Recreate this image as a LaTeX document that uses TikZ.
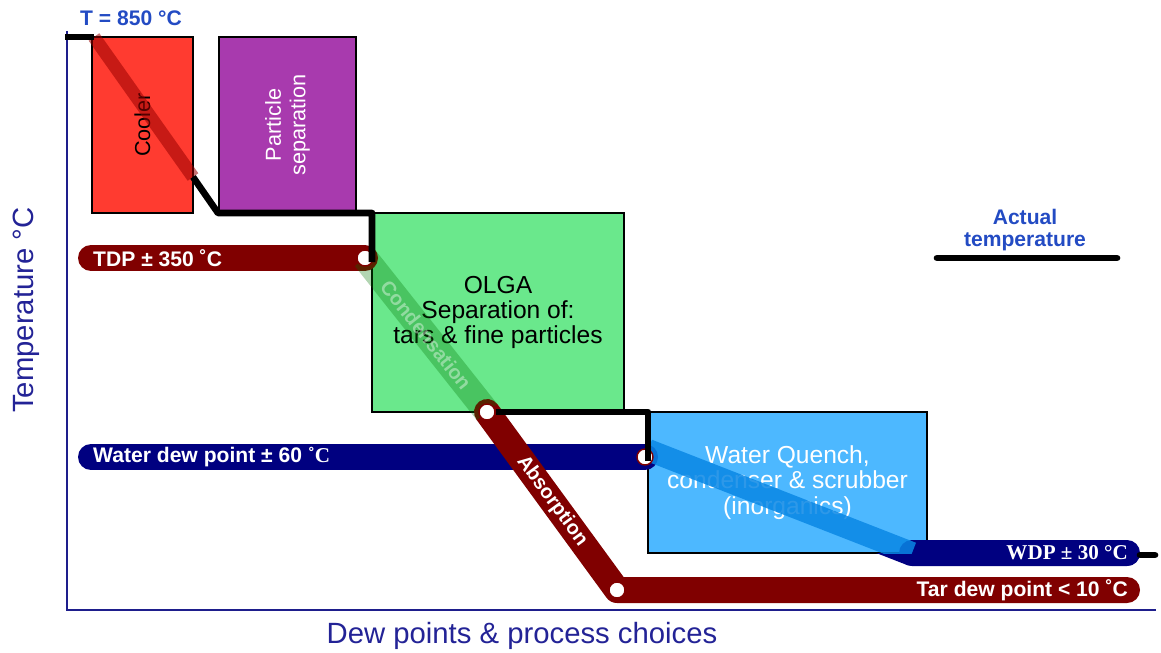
\documentclass[tikz,border=0pt]{standalone}
\usepackage{fontspec}
\setmainfont{Liberation Sans}
\newfontfamily\timesfont{Liberation Serif}
\usetikzlibrary{positioning}
\definecolor{axisblue}{RGB}{30,30,140}
\definecolor{labelblue}{RGB}{35,35,150}
\definecolor{textblue}{RGB}{35,75,195}
\definecolor{tarred}{RGB}{128,0,0}
\definecolor{waternavy}{RGB}{0,0,128}
\definecolor{coolerred}{RGB}{255,59,48}
\definecolor{partpurple}{RGB}{168,58,174}
\definecolor{olgagreen}{RGB}{106,232,140}
\definecolor{quenchblue}{RGB}{77,184,255}
\definecolor{bandblue}{RGB}{10,135,228}
\tikzstyle{stage} = [rectangle, draw=black, line width=1pt, align=center, inner sep=0pt]
\tikzstyle{tarbar} = [draw=tarred, line width=0.78cm, line cap=round, line join=round]
\tikzstyle{waterbar} = [draw=waternavy, line width=0.78cm, line cap=round, line join=round]
\tikzstyle{actual} = [draw=black, line width=0.2cm, line join=round]
\tikzstyle{dewpoint} = [circle, draw=tarred, fill=white, line width=1.2pt, minimum size=0.48cm, inner sep=0pt]
\tikzstyle{barlabel} = [text=white, inner sep=0pt, font=\fontsize{18}{20}\selectfont\bfseries]
\tikzstyle{bandlabel} = [sloped, inner sep=0pt, font=\fontsize{17}{18}\selectfont\bfseries]

\begin{document}
\begin{tikzpicture}[x=0.03cm, y=-0.03cm]
	\useasboundingbox (0,0) rectangle (1161,653);
	
	\coordinate (top) at (67,31);
	\coordinate (origin) at (67,610);
	\coordinate (right) at (1156,610);
	\draw [axisblue, line width=2pt] (top) -- (origin) -- (right);
	
	\node (cooler) [stage, fill=coolerred, rotate=90, minimum width=5.28cm, minimum height=3.03cm, font=\fontsize{18.5}{20}\selectfont] at (142.5,125) {Cooler};
	\node (particle) [stage, fill=partpurple, rotate=90, minimum width=5.28cm, minimum height=4.11cm, text=white, font=\fontsize{18.5}{21}\selectfont] at (287.5,125) {Particle\\separation};
	\node (olga) [stage, fill=olgagreen, minimum width=7.56cm, minimum height=5.97cm, font=\fontsize{21}{21.5}\selectfont] at (498,312.5) {OLGA\\Separation of:\\tars \& fine particles};
	\node (quench) [stage, fill=quenchblue, minimum width=8.37cm, minimum height=4.23cm, text=white, font=\fontsize{21}{21.5}\selectfont] at (787.5,482.5) {Water Quench,\\condenser \& scrubber\\(inorganics)};
	
	\coordinate (t0) at (65,37);
	\coordinate (t1) at (94,37);
	\coordinate (t2) at (193,177);
	\coordinate (t3) at (218,213);
	\coordinate (t4) at (372,213);
	\coordinate (t5) at (372,262);
	\coordinate (t6) at (648,412);
	\coordinate (t7) at (648,461);
	\coordinate (tdpstart) at (91,258);
	\coordinate (waterstart) at (91,457);
	\coordinate (tarend) at (1127,590);
	\coordinate (quenchin) at (648,450);
	\coordinate (wdpstart) at (912,553);
	\coordinate (wdpend) at (1127,553);
	\coordinate (t8) at (1140,555);
	\coordinate (t9) at (1155,555);
	
	\node (tdp) [dewpoint] at (365,258) {};
	\node (abs) [dewpoint] at (487,412) {};
	\node (tar) [dewpoint] at (617,590) {};
	\node (wdp) [dewpoint] at (645,457) {};
	
	\draw [red!60!black, opacity=0.55, line width=0.39cm] (t1) -- (t2);
	
	\draw [tarbar] (tdpstart) -- (tdp.center);
	\draw [waterbar] (waterstart) -- (wdp.center);
	\draw [tarbar] (abs.center) -- node[bandlabel, text=white] {Absorption} (tar.center) -- (tarend);
	\begin{scope}
		\clip (quench.south west) rectangle (1161,653);
		\draw [waterbar] (quenchin) -- (wdpstart) -- (wdpend);
	\end{scope}
	\draw [waterbar] (wdpstart) -- (wdpend);
	\begin{scope}
		\clip (quench.south west) rectangle (quench.north east);
		\draw [bandblue, opacity=0.85, line width=0.66cm] (quenchin) -- (wdpstart);
	\end{scope}
	\draw [green!45!black, opacity=0.3, line width=0.78cm] (tdp.center) -- node[bandlabel, text=white, text opacity=0.4] {Condensation} (abs.center);
	
	\node [dewpoint] at (tdp) {};
	\node [dewpoint] at (abs) {};
	\node [dewpoint] at (tar) {};
	\node [dewpoint] at (wdp) {};
	
	\draw [actual] (t0) -- (t1);
	\draw [actual] (t2) -- (t3) -- (t4) -- (t5);
	\draw [actual] (abs.east) -- (t6) -- (t7);
	\draw [actual, line cap=round] (t8) -- (t9);
	
	\node (tdplabel) [barlabel, anchor=west] at (93,258) {TDP ± 350 ˚C};
	\node (waterlabel) [barlabel, anchor=west] at (93,457) {Water dew point ± 60 {\timesfont ˚C}};
	\node (tarlabel) [barlabel, anchor=east] at (1128,590) {Tar dew point < 10 ˚C};
	\node (wdplabel) [barlabel, anchor=east, font=\fontsize{18}{20}\selectfont\timesfont\bfseries] at (1128,553) {WDP ± 30 °C};
	
	\node (start) [text=textblue, font=\fontsize{18}{20}\selectfont\bfseries] at (131,18) {T = 850 °C};
	\node (legend) [text=textblue, align=center, font=\fontsize{18}{18.5}\selectfont\bfseries] at (1025,230) {Actual\\temperature};
	\coordinate (legstart) at (937,258);
	\coordinate (legend) at (1117,258);
	\draw [actual, line cap=round] (legstart) -- (legend);
	
	\node (ylabel) [rotate=90, text=labelblue, font=\fontsize{25}{27}\selectfont] at (26,310) {Temperature °C};
	\node (xlabel) [text=labelblue, font=\fontsize{25}{27}\selectfont] at (522,636) {Dew points \& process choices};
\end{tikzpicture}
\end{document}
